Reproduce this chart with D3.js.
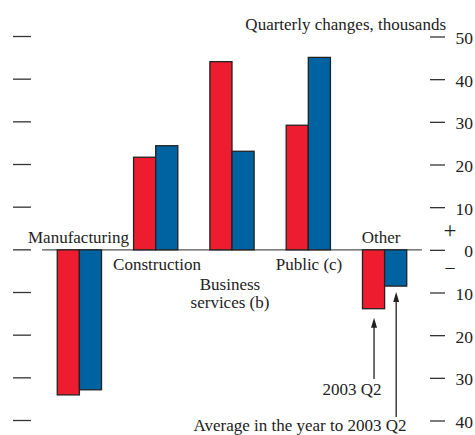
<!DOCTYPE html>
<html><head><meta charset="utf-8">
<script src="https://cdn.jsdelivr.net/npm/d3@7"></script>
<style>body{margin:0;background:#fff}svg{display:block}text{font-family:"Liberation Serif","DejaVu Serif",serif;fill:#222}</style>
</head><body><svg id="c" width="475" height="435"></svg>
<script>
const categories = ["Manufacturing","Construction","Business services (b)","Public (c)","Other"];
const q2 = [-34, 21.7, 44.1, 29.2, -13.8];
const avg = [-32.8, 24.4, 23.1, 45.1, -8.5];
const tickValues = [50,40,30,20,10,0,-10,-20,-30,-40];
const seriesNames = ["2003 Q2","Average in the year to 2003 Q2"];

const svg = d3.select("#c");
const y = d3.scaleLinear().domain([-40,50]).range([420.5,36.5]);
const x = d3.scaleBand().domain(categories).range([42,422]).paddingInner(0.42).paddingOuter(0.2);
const xs = d3.scaleBand().domain(["q2","avg"]).range([0,x.bandwidth()]);
const red="#ED1C2E", blue="#0063A1";

// left ticks
svg.append("g").selectAll("line").data(tickValues).join("line")
  .attr("x1",13).attr("x2",31).attr("y1",d=>y(d)).attr("y2",d=>y(d)).attr("stroke","#333").attr("stroke-width",1.3);
// right axis
const ra = d3.axisRight(y).tickValues(tickValues).tickSize(15).tickFormat(d=>Math.abs(d));
const g = svg.append("g").attr("transform","translate(430,0)").call(ra);
g.select(".domain").remove();
g.selectAll(".tick line").attr("stroke","#333").attr("stroke-width",1.3);
g.selectAll(".tick text").attr("x",43).attr("text-anchor","end").attr("dy","0.4em")
  .style("font-size","17.5px").style("font-family","Liberation Serif, serif").attr("fill","#222");

// zero line
svg.append("line").attr("x1",42).attr("x2",422).attr("y1",y(0)).attr("y2",y(0)).attr("stroke","#555").attr("stroke-width",1.3);

// bars
const data = categories.map((c,i)=>({c,q2:q2[i],avg:avg[i]}));
const bg = svg.append("g").selectAll("g").data(data).join("g").attr("transform",d=>`translate(${x(d.c)},0)`);
bg.selectAll("rect").data(d=>[{k:"q2",v:d.q2},{k:"avg",v:d.avg}]).join("rect")
  .attr("x",d=>xs(d.k)).attr("width",xs.bandwidth())
  .attr("y",d=>y(Math.max(0,d.v))).attr("height",d=>Math.abs(y(d.v)-y(0)))
  .attr("fill",d=>d.k==="q2"?red:blue).attr("stroke","#222").attr("stroke-width",1.3);

const fs="17px";
function txt(t,xx,yy,anchor){svg.append("text").attr("x",xx).attr("y",yy).attr("text-anchor",anchor||"middle").style("font-size",fs).text(t);}
txt("Quarterly changes, thousands",446,30,"end");
txt("Manufacturing",129,243,"end");
txt("Construction",157,270);
txt("Business",230,290);
txt("services (b)",230,308);
txt("Public (c)",309,270);
txt("Other",381,243);
svg.append("text").attr("x",450).attr("y",238).attr("text-anchor","middle").style("font-size","23px").text("+");
svg.append("text").attr("x",450).attr("y",273).attr("text-anchor","middle").style("font-size","18px").text("–");

// annotations
const xQ2 = x("Other")+xs("q2")+xs.bandwidth()/2+0.5;
const xAv = x("Other")+xs("avg")+xs.bandwidth()/2+0.5;
function arrow(xx,y1,y2){
 svg.append("line").attr("x1",xx).attr("x2",xx).attr("y1",y1).attr("y2",y2+4).attr("stroke","#222").attr("stroke-width",1.3);
 svg.append("path").attr("d",`M${xx-3},${y2+10} L${xx},${y2} L${xx+3},${y2+10} Z`).attr("fill","#222");}
arrow(xQ2,379,y(q2[4])+9);
arrow(xAv,417,y(avg[4])+6);
txt(seriesNames[0],352,395);
txt(seriesNames[1],300,431);
</script></body></html>
